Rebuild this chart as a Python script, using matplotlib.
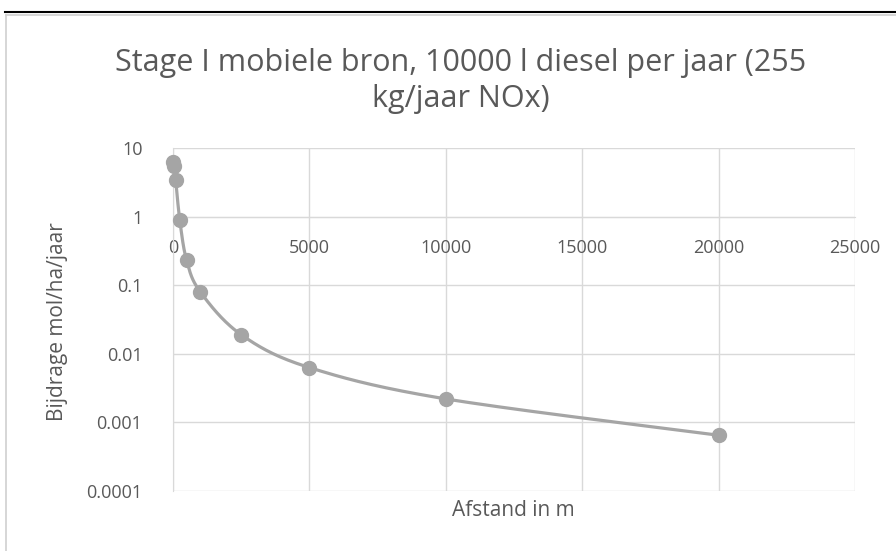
import numpy as np
import matplotlib.pyplot as plt
from matplotlib.lines import Line2D
from matplotlib.ticker import FixedLocator, FuncFormatter

# ============================================================
# Data
# ============================================================
afstand = [10, 50, 100, 250, 500, 1000, 2500, 5000, 10000, 20000]      # m
bijdrage = [6.3, 5.4, 3.4, 0.88, 0.23, 0.08, 0.019, 0.0063, 0.0022, 0.00065]  # mol/ha/jaar

x_ticks = [0, 5000, 10000, 15000, 20000, 25000]
y_ticks = [0.0001, 0.001, 0.01, 0.1, 1, 10]

title = "Stage I mobiele bron, 10000 l diesel per jaar (255\nkg/jaar NOx)"
x_label = "Afstand in m"
y_label = "Bijdrage mol/ha/jaar"

# Styles
series_col = '#a5a5a5'
grid_col = '#d9d9d9'
text_col = '#595959'
plt.rcParams['font.family'] = ['Open Sans', 'DejaVu Sans']

W, H = 896, 551
fig = plt.figure(figsize=(W / 100, H / 100), dpi=100)
ax = fig.add_axes([173 / W, 1 - 491 / H, (855 - 173) / W, (491 - 148) / H])

ax.set_yscale('log')
ax.set_xlim(0, 25000)
ax.set_ylim(1e-4, 10)

# --- smoothed line (Catmull-Rom in screen-like space, like Excel's smoothing) ---
def smooth_curve(xs, ys, n=30):
    px = ax.get_position().width * W
    py = ax.get_position().height * H
    u = np.array(xs) / 25000.0 * px
    v = (np.log10(ys) + 4) / 5.0 * py
    pts = np.column_stack([u, v])
    pts = np.vstack([pts[0], pts, pts[-1]])
    out = []
    for i in range(1, len(pts) - 2):
        p0, p1, p2, p3 = pts[i - 1], pts[i], pts[i + 1], pts[i + 2]
        c1 = p1 + (p2 - p0) / 6.0
        c2 = p2 - (p3 - p1) / 6.0
        t = np.linspace(0, 1, n)[:, None]
        seg = ((1 - t) ** 3) * p1 + 3 * ((1 - t) ** 2) * t * c1 + 3 * (1 - t) * t ** 2 * c2 + t ** 3 * p2
        out.append(seg)
    out = np.vstack(out)
    return out[:, 0] / px * 25000.0, 10 ** (out[:, 1] / py * 5.0 - 4)

sx, sy = smooth_curve(afstand, bijdrage)
ax.plot(sx, sy, color=series_col, lw=2.3, solid_capstyle='round', zorder=3, clip_on=False)
ax.plot(afstand, bijdrage, 'o', color=series_col, ms=10, zorder=4, clip_on=False)

# --- axes styling ---
ax.xaxis.set_major_locator(FixedLocator(x_ticks))
ax.yaxis.set_major_locator(FixedLocator(y_ticks))
ax.yaxis.set_minor_locator(FixedLocator([]))
ax.yaxis.set_major_formatter(FuncFormatter(lambda v, p: f'{v:g}' if v >= 0.001 else f'{v:.4f}'))
ax.grid(True, color=grid_col, lw=1.0)
ax.set_axisbelow(True)
for s in ['top', 'right']:
    ax.spines[s].set_visible(False)
ax.spines['left'].set_color(grid_col)
ax.spines['bottom'].set_color(grid_col)
ax.spines['bottom'].set_position(('data', 1))
ax.tick_params(length=0, labelsize=13, labelcolor=text_col)
ax.tick_params(axis='y', pad=22)
ax.tick_params(axis='x', pad=16)

# --- texts ---
fig.text(461 / W, 1 - 81 / H, title, ha='center', va='center', fontsize=22,
         color=text_col, linespacing=1.25)
fig.text(513 / W, 1 - 510 / H, x_label, ha='center', va='center', fontsize=15, color=text_col)
fig.text(57 / W, 1 - 322 / H, y_label, ha='center', va='center', rotation=90,
         fontsize=15, color=text_col)

# --- frame of the screenshot ---
fig.add_artist(Line2D([5 / W, 1], [1 - 11.5 / H] * 2, color='black', lw=1.5))
fig.add_artist(Line2D([6 / W, 1], [1 - 14.5 / H] * 2, color='#d0d0d0', lw=1.2))
fig.add_artist(Line2D([6 / W, 6 / W], [0, 1 - 14.5 / H], color='#d0d0d0', lw=1.2))

fig.savefig('out.png', dpi=100)
